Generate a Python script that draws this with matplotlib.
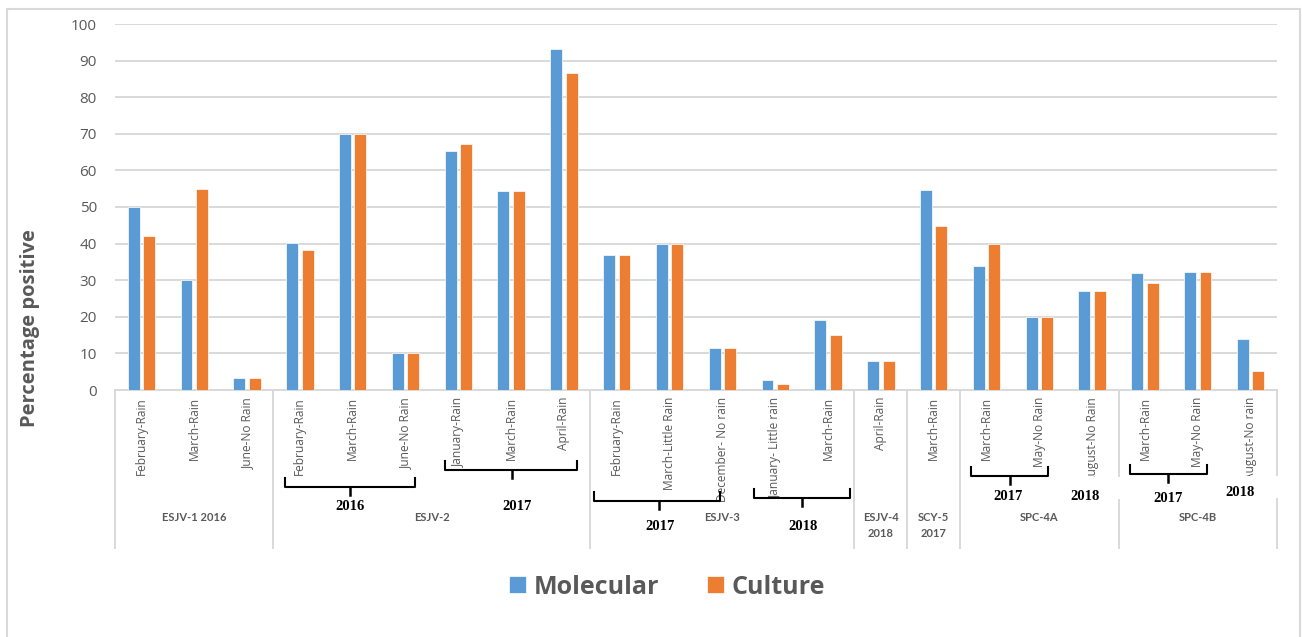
import matplotlib
matplotlib.use("Agg")
import matplotlib.pyplot as plt
from matplotlib.patches import Rectangle
from matplotlib.lines import Line2D
from matplotlib.transforms import blended_transform_factory
import numpy as np

# ---- data -------------------------------------------------------------
categories = [
    "February-Rain", "March-Rain", "June-No Rain",
    "February-Rain", "March-Rain", "June-No Rain",
    "January-Rain", "March-Rain", "April-Rain",
    "February-Rain", "March-Little Rain", "December- No rain",
    "January- Little rain", "March-Rain",
    "April-Rain",
    "March-Rain",
    "March-Rain", "May-No Rain", "August-No Rain",
    "March-Rain", "May-No Rain", "August-No rain",
]
groups = ["ESJV-1 2016", "ESJV-2", "ESJV-3", "ESJV-4\n2018", "SCY-5\n2017", "SPC-4A", "SPC-4B"]
group_sizes = [3, 6, 5, 1, 1, 3, 3]

molecular = [50, 30, 3.2,
             40.2, 70, 10, 65.3, 54.4, 93.2,
             36.8, 40, 11.5, 2.6, 19.0,
             7.8,
             54.7,
             33.8, 20, 27.1,
             32.1, 32.3, 13.9]
culture = [42, 55, 3.2,
           38.3, 70, 10, 67.1, 54.4, 86.6,
           36.8, 40, 11.5, 1.6, 15.1,
           7.8,
           44.8,
           40, 20, 27.1,
           29.3, 32.3, 5.2]

series_names = ["Molecular", "Culture"]
yticks = list(range(0, 101, 10))

# ---- style --------------------------------------------------------------
W, H = 1302, 637
BLUE = "#5B9BD5"
ORANGE = "#ED7D31"
TEXT = "#595959"
GRID = "#D9D9D9"
SANS = ["Open Sans", "DejaVu Sans"]
SERIF = ["Liberation Serif", "DejaVu Serif"]

plt.rcParams["font.family"] = SANS

fig = plt.figure(figsize=(W / 100, H / 100), dpi=100)
ax = fig.add_axes([115 / W, 1 - 390 / H, (1277 - 115) / W, (390 - 24) / H])


def fy(px):
    """Vertical pixel position (from the top) to figure fraction."""
    return 1 - px / H


trans = blended_transform_factory(ax.transData, fig.transFigure)

# ---- bars ---------------------------------------------------------------
x = np.arange(len(categories))
bw = 0.225
off = 0.146
b1 = ax.bar(x - off, molecular, bw, color=BLUE, edgecolor="white", linewidth=0.5,
            label=series_names[0], zorder=3)
b2 = ax.bar(x + off, culture, bw, color=ORANGE, edgecolor="white", linewidth=0.5,
            label=series_names[1], zorder=3)

ax.set_xlim(-0.5, len(categories) - 0.5)
ax.set_ylim(0, 100)
ax.set_yticks(yticks)
ax.set_xticks([])
ax.tick_params(axis="y", length=0, pad=13, labelsize=11, labelcolor=TEXT)
ax.yaxis.grid(True, color=GRID, linewidth=1.4)
ax.set_axisbelow(True)
for s in ("top", "right", "left"):
    ax.spines[s].set_visible(False)
ax.spines["bottom"].set_color(GRID)
ax.spines["bottom"].set_linewidth(1.4)

# ---- category labels ----------------------------------------------------
for i, lab in enumerate(categories):
    ax.text(i, fy(397), lab, transform=trans, rotation=90, ha="center", va="top",
            fontsize=8.6, color=TEXT, clip_on=False)

# group separators and names
bounds = np.concatenate([[0], np.cumsum(group_sizes)]) - 0.5
for b in bounds:
    ax.add_line(Line2D([b, b], [fy(390), fy(548)], transform=trans, color=GRID,
                       linewidth=1.4, clip_on=False, zorder=1))
for g, lo, hi in zip(groups, bounds[:-1], bounds[1:]):
    ax.text((lo + hi) / 2, fy(512), g, transform=trans, ha="center", va="top",
            fontsize=8, fontweight="bold", color=TEXT, linespacing=1.55,
            family=["Lato", "DejaVu Sans"], clip_on=False)

# ---- year brackets drawn over the axis labels ----------------------------
brackets = [  # left, right, middle (category units), baseline (px from top)
    (2.72, 5.18, 3.95, 487),
    (5.75, 8.25, 7.02, 470),
    (8.57, 10.96, 9.80, 501),
    (11.60, 13.42, 12.51, 498),
    (15.71, 17.17, 16.45, 476),
    (18.72, 20.18, 19.44, 474),
]
for xl, xr, xm, yb in brackets:
    ax.add_line(Line2D([xl, xl, xr, xr], [fy(yb - 9), fy(yb), fy(yb), fy(yb - 9)],
                       transform=trans, color="black", linewidth=1.5,
                       clip_on=False, zorder=6, solid_joinstyle="round"))
    ax.add_line(Line2D([xm, xm], [fy(yb), fy(yb + 8)], transform=trans,
                       color="black", linewidth=1.8, clip_on=False, zorder=6))

# white text boxes behind two of the year labels
for xl, xr, yt, yb in [(17.44, 18.63, 477, 499), (20.14, 21.80, 476, 498)]:
    ax.add_patch(Rectangle((xl, fy(yb)), xr - xl, fy(yt) - fy(yb), transform=trans,
                           facecolor="white", edgecolor="none", clip_on=False, zorder=5))

years = [("2016", 3.95, 507), ("2017", 7.11, 507), ("2017", 9.82, 527),
         ("2018", 12.53, 526), ("2017", 16.41, 497), ("2018", 17.87, 497),
         ("2017", 19.44, 498), ("2018", 20.80, 493)]
for txt, xc, yc in years:
    ax.text(xc, fy(yc), txt, transform=trans, ha="center", va="center",
            fontsize=10.5, fontweight="bold", color="black", family=SERIF,
            clip_on=False, zorder=7)

# ---- axis title and legend ---------------------------------------------
fig.text(30 / W, fy(328), "Percentage positive", rotation=90, ha="center",
         va="center", fontsize=14.5, fontweight="bold", color=TEXT)

leg = fig.legend(handles=[b1, b2], loc="center", bbox_to_anchor=(667 / W, fy(587)),
                 ncol=2, frameon=False, handlelength=0.68,
                 handleheight=0.68, handletextpad=0.32, columnspacing=1.9,
                 prop={"weight": "bold", "size": 18})
for t in leg.get_texts():
    t.set_color(TEXT)

# chart frame
fig.patches.append(Rectangle((7 / W, -0.05), (1300 - 7) / W, fy(9) + 0.05,
                             transform=fig.transFigure, facecolor="none",
                             edgecolor=GRID, linewidth=1.5, zorder=0))

fig.savefig("out.png", dpi=100)
